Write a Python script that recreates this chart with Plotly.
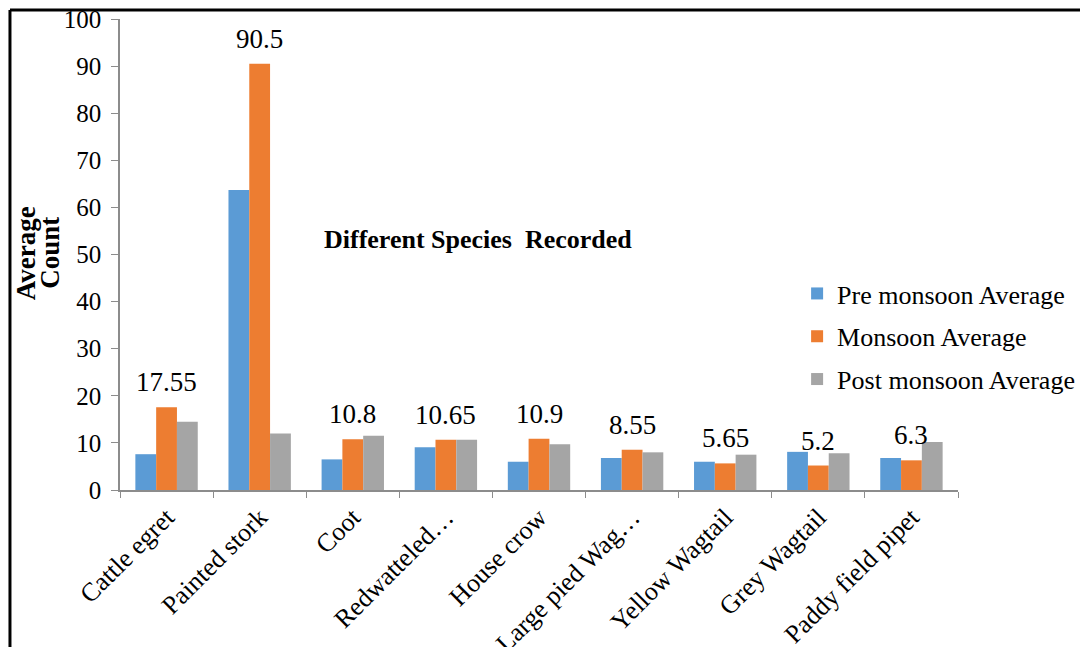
import plotly.graph_objects as go

categories = ["Cattle egret", "Painted stork", "Coot", "Redwatteled…", "House crow",
              "Large pied Wag…", "Yellow Wagtail", "Grey Wagtail", "Paddy field pipet"]
pre_monsoon = [7.6, 63.7, 6.5, 9.1, 6.0, 6.8, 6.0, 8.1, 6.8]
monsoon = [17.55, 90.5, 10.8, 10.65, 10.9, 8.55, 5.65, 5.2, 6.3]
post_monsoon = [14.5, 12.0, 11.5, 10.65, 9.7, 8.0, 7.5, 7.8, 10.2]
series_names = ["Pre monsoon Average", "Monsoon Average", "Post monsoon Average"]
colors = ["#5B9BD5", "#ED7D31", "#A5A5A5"]
y_ticks = [0, 10, 20, 30, 40, 50, 60, 70, 80, 90, 100]

FONT = "Liberation Serif"

fig = go.Figure()
for i, (name, vals) in enumerate(zip(series_names, [pre_monsoon, monsoon, post_monsoon])):
    fig.add_trace(go.Bar(x=categories, y=vals, name=name, marker_color=colors[i],
                         marker_line_width=0, legendgroup=f"g{i}"))

# data labels on monsoon series
for c, v in zip(categories, monsoon):
    fig.add_annotation(x=c, y=v, xref="x", yref="y", text=f"{v:g}", showarrow=False,
                       yanchor="bottom", yshift=8, font=dict(family=FONT, size=27, color="#000"))

fig.add_annotation(x=0.427, y=0.531, xref="paper", yref="paper",
                   text="<b>Different Species  Recorded</b>", showarrow=False,
                   font=dict(family=FONT, size=26, color="#000"))
fig.add_annotation(x=-0.112, y=0.503, xref="paper", yref="paper", textangle=-90,
                   xanchor="center", yanchor="middle",
                   text="<b>Average</b>", showarrow=False,
                   font=dict(family=FONT, size=27, color="#000"))
fig.add_annotation(x=-0.084, y=0.503, xref="paper", yref="paper", textangle=-90,
                   xanchor="center", yanchor="middle",
                   text="<b>Count</b>", showarrow=False,
                   font=dict(family=FONT, size=27, color="#000"))

# outer border (left and top)
fig.add_shape(type="line", xref="paper", yref="paper", x0=-0.1313, x1=1.2, y0=1.019, y1=1.019,
              line=dict(color="black", width=3))
fig.add_shape(type="line", xref="paper", yref="paper", x0=-0.1313, x1=-0.1313, y0=-0.4, y1=1.019,
              line=dict(color="black", width=3))

fig.update_layout(
    width=1080, height=639,
    margin=dict(l=112, r=130, t=11, b=157, autoexpand=False),
    paper_bgcolor="white", plot_bgcolor="white",
    barmode="group", bargap=0.33, bargroupgap=0,
    font=dict(family=FONT, size=24, color="#000"),
    showlegend=True,
    legend=dict(x=0.808, y=0.467, xanchor="left", yanchor="top",
                font=dict(family=FONT, size=26, color="#000"),
                tracegroupgap=6, bgcolor="rgba(0,0,0,0)"),
    xaxis=dict(showline=True, linecolor="#8C8C8C", linewidth=1.5, ticks="outside",
               tickson="boundaries", ticklen=6, tickcolor="#8C8C8C", tickangle=-45,
               tickfont=dict(family=FONT, size=26, color="#000"), showgrid=False,
               automargin=False, ticklabeloverflow="allow"),
    yaxis=dict(range=[0, 100], tickvals=y_ticks, showline=True, linecolor="#8C8C8C",
               linewidth=1.5, ticks="outside", ticklen=7, tickcolor="#8C8C8C",
               tickfont=dict(family=FONT, size=25, color="#000"), showgrid=False,
               zeroline=False, automargin=False, ticklabeloverflow="allow",
               ticklabelstandoff=5),
)

fig.write_html("out.html")
